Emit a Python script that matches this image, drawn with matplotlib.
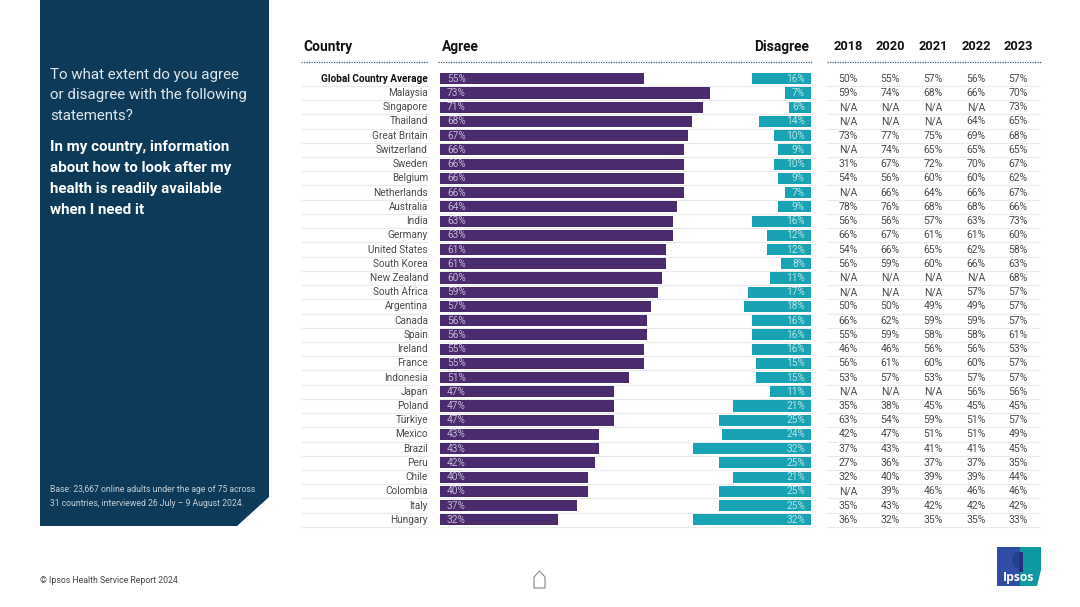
import matplotlib
matplotlib.use('Agg')
import matplotlib.pyplot as plt
from matplotlib.patches import Polygon, Rectangle, Ellipse

plt.rcParams['font.family'] = ['Roboto', 'DejaVu Sans']

countries = ['Global Country Average', 'Malaysia', 'Singapore', 'Thailand', 'Great Britain',
             'Switzerland', 'Sweden', 'Belgium', 'Netherlands', 'Australia', 'India', 'Germany',
             'United States', 'South Korea', 'New Zealand', 'South Africa', 'Argentina', 'Canada',
             'Spain', 'Ireland', 'France', 'Indonesia', 'Japan', 'Poland', 'Türkiye', 'Mexico',
             'Brazil', 'Peru', 'Chile', 'Colombia', 'Italy', 'Hungary']
agree = [55, 73, 71, 68, 67, 66, 66, 66, 66, 64, 63, 63, 61, 61, 60, 59,
         57, 56, 56, 55, 55, 51, 47, 47, 47, 43, 43, 42, 40, 40, 37, 32]
disagree = [16, 7, 6, 14, 10, 9, 10, 9, 7, 9, 16, 12, 12, 8, 11, 17,
            18, 16, 16, 16, 15, 15, 11, 21, 25, 24, 32, 25, 21, 25, 25, 32]
years = ['2018', '2020', '2021', '2022', '2023']
y2018 = ['50%', '59%', 'N/A', 'N/A', '73%', 'N/A', '31%', '54%', 'N/A', '78%', '56%', '66%',
         '54%', '56%', 'N/A', 'N/A', '50%', '66%', '55%', '46%', '56%', '53%', 'N/A', '35%',
         '63%', '42%', '37%', '27%', '32%', 'N/A', '35%', '36%']
y2020 = ['55%', '74%', 'N/A', 'N/A', '77%', '74%', '67%', '56%', '66%', '76%', '56%', '67%',
         '66%', '59%', 'N/A', 'N/A', '50%', '62%', '59%', '46%', '61%', '57%', 'N/A', '38%',
         '54%', '47%', '43%', '36%', '40%', '39%', '43%', '32%']
y2021 = ['57%', '68%', 'N/A', 'N/A', '75%', '65%', '72%', '60%', '64%', '68%', '57%', '61%',
         '65%', '60%', 'N/A', 'N/A', '49%', '59%', '58%', '56%', '60%', '53%', 'N/A', '45%',
         '59%', '51%', '41%', '37%', '39%', '46%', '42%', '35%']
y2022 = ['56%', '66%', 'N/A', '64%', '69%', '65%', '70%', '60%', '66%', '68%', '63%', '61%',
         '62%', '66%', 'N/A', '57%', '49%', '59%', '58%', '56%', '60%', '57%', '56%', '45%',
         '51%', '51%', '41%', '37%', '39%', '46%', '42%', '35%']
y2023 = ['57%', '70%', '73%', '65%', '68%', '65%', '67%', '62%', '67%', '66%', '73%', '60%',
         '58%', '63%', '68%', '57%', '57%', '57%', '61%', '53%', '57%', '57%', '56%', '45%',
         '57%', '49%', '45%', '35%', '44%', '46%', '42%', '33%']
year_cols = [y2018, y2020, y2021, y2022, y2023]

W, H = 1080, 607
NAVY = '#0c3a58'
PURPLE = '#4a2b6e'
TEAL = '#17a3b3'
GREY = '#4a4a4a'
SEP = '#e9ebee'
PX_PER_PCT = 3.70
ROW0, ROWH = 78.8, 14.226

fig = plt.figure(figsize=(W / 100, H / 100), dpi=100, facecolor='white')

# page axes in pixel units, for everything that is not a bar
page = fig.add_axes([0, 0, 1, 1])
page.set_xlim(0, W)
page.set_ylim(H, 0)
page.axis('off')

page.add_patch(Polygon([(40, 0), (269, 0), (269, 497), (237, 526), (40, 526)], fc=NAVY, ec='none'))
for i, line in enumerate(['To what extent do you agree', 'or disagree with the following', 'statements?']):
    page.text(50, 74.5 + i * 21, line, color='#dfe6ea', fontsize=10.9, va='center')
for i, line in enumerate(['In my country, information', 'about how to look after my',
                          'health is readily available', 'when I need it']):
    page.text(50, 146.5 + i * 21.2, line, color='white', fontsize=10.9, fontweight='bold', va='center')
page.text(50, 490, 'Base: 23,667 online adults under the age of 75 across', color='#c3ced6', fontsize=6.2, va='center')
page.text(50, 503, '31 countries, interviewed 26 July – 9 August 2024.', color='#c3ced6', fontsize=6.2, va='center')
page.text(40, 580.5, '© Ipsos Health Service Report 2024', color='#444444', fontsize=6.3, va='center')

# headers and dotted rules
for x, s, ha in [(303, 'Country', 'left'), (442, 'Agree', 'left'), (809, 'Disagree', 'right')]:
    page.text(x, 47, s, color='#111111', fontsize=9.9, fontweight='bold', ha=ha, va='center')
col_x = [848, 890, 933, 976, 1018]
for x, s in zip(col_x, years):
    page.text(x, 47, s, color='#111111', fontsize=9.2, fontweight='bold', ha='center', va='center')
for x0, x1 in [(301, 428), (438, 812), (827, 1041)]:
    page.plot([x0, x1], [62, 62], color='#3f5f78', lw=0.9, ls=(0, (1, 1)))

# rows
for i, name in enumerate(countries):
    y = ROW0 + i * ROWH
    weight = 'bold' if i == 0 else 'normal'
    page.text(428, y, name, color='#111111' if i == 0 else GREY, fontsize=7.2, fontweight=weight, ha='right', va='center')
    for x, col in zip(col_x, year_cols):
        page.text(x, y, col[i], color=GREY, fontsize=7.5, ha='center', va='center')
    for x0, x1 in [(302, 428), (440, 811), (827, 1040)]:
        page.plot([x0, x1], [y + ROWH / 2, y + ROWH / 2], color=SEP, lw=0.8, zorder=0)

# home icon
page.add_patch(Polygon([(534, 588), (534, 577), (539.5, 571), (545, 577), (545, 588)], fc='none', ec='#888888', lw=0.8))

# logo
page.add_patch(Rectangle((997, 547), 23, 39, fc='#2f4ca6', ec='none'))
page.add_patch(Polygon([(1020, 547), (1041, 547), (1041, 570), (1037, 586), (1020, 586)], fc='#0e9aa0', ec='none'))
page.add_patch(Ellipse((1017, 560), 10, 16, fc='#24408e', ec='none'))
page.add_patch(Rectangle((1019, 552), 4, 20, fc='#24307e', ec='none'))
page.text(1018.5, 577.5, 'Ipsos', color='white', fontsize=8.8, fontweight='bold', family='Open Sans', ha='center', va='center')


def bar_axes(left, width):
    ax = fig.add_axes([left / W, 0, width / W, 1])
    ax.set_ylim((H - ROW0) / ROWH, -ROW0 / ROWH)
    ax.axis('off')
    ax.patch.set_alpha(0)
    return ax


# agree bars grow right from x=440, disagree bars grow left from x=811
ax_a = bar_axes(440, 372)
ax_a.set_xlim(0, 372 / PX_PER_PCT)
ax_a.barh(range(len(agree)), agree, height=0.78, color=PURPLE)
for i, v in enumerate(agree):
    ax_a.text(1.9, i, f'{v}%', color='#c3b8d3', fontsize=7.3, va='center')

ax_d = bar_axes(440, 371)
ax_d.set_xlim(371 / PX_PER_PCT, 0)
ax_d.barh(range(len(disagree)), disagree, height=0.78, color=TEAL)
for i, v in enumerate(disagree):
    ax_d.text(1.6, i, f'{v}%', color='#b5e2e7', fontsize=7.3, ha='right', va='center')

fig.savefig('out.png', dpi=100)
